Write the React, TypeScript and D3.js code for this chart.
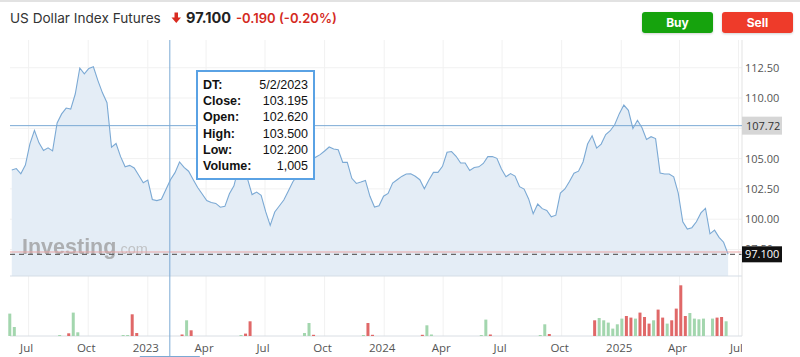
import React from "react";
import * as d3 from "d3";

const startDate = new Date(2022, 5, 5);
const closeValues: number[] = [
  104.06, 104.18, 103.75, 104.47, 106.21, 107.33, 106.3, 105.67, 105.89, 105.64,
  107.94, 108.69, 109.17, 109.09, 110.33, 112.48, 111.99, 112.44, 112.58, 111.44,
  110.43, 109.61, 105.94, 106.25, 105.16, 104.32, 104.44, 104.23, 103.62, 103.0,
  103.23, 101.63, 101.53, 101.64, 102.45, 103.25, 103.84, 104.72, 104.27, 103.96,
  103.28, 102.61, 102.08, 101.54, 101.38, 101.3, 100.99, 101.06, 102.1, 102.75,
  104.23, 104.39, 103.32, 102.03, 102.24, 101.97, 100.62, 99.49, 100.59, 101.09,
  101.58, 102.33, 103.09, 103.61, 104.23, 104.55, 104.88, 105.11, 105.33, 105.63,
  105.96, 105.79, 105.73, 104.69, 104.69, 103.37, 102.95, 103.07, 103.2, 101.89,
  101.0, 101.11, 101.9, 102.13, 102.98, 103.26, 103.53, 103.73, 103.75, 103.54,
  103.26, 102.51, 103.24, 103.86, 103.86, 104.36, 105.52, 105.58, 105.19, 104.64,
  104.64, 104.02, 104.26, 104.32, 104.6, 105.16, 105.17, 105.02, 104.14, 103.51,
  103.76, 103.56, 102.68, 102.48, 101.67, 100.45, 101.25, 100.87, 100.72, 100.19,
  100.33, 102.15, 102.49, 103.11, 103.79, 103.96, 104.72, 106.2, 106.88, 105.87,
  106.2, 106.99, 107.3, 107.81, 108.71, 109.42, 108.99, 107.49, 108.16, 107.55,
  106.58, 106.81, 106.65, 103.81, 103.73, 103.73, 103.49, 102.15, 99.79, 99.19,
  99.3, 99.79, 100.52, 100.9, 98.79, 99.1, 98.5, 98.1, 97.1,
];

const volumeWeek: number[] = [
  0, 1, 11, 13, 14, 15, 25, 26, 27, 28, 38, 39, 40, 51, 52, 53, 65, 66, 67, 78, 79, 80,
  91, 92, 93, 104, 105, 106, 117, 118, 119,
  129, 130, 131, 132, 133, 134, 135, 136, 137, 138, 139, 140, 141, 142, 143, 144, 145,
  146, 147, 148, 149, 150, 151, 152, 153, 155, 156, 157, 158,
];
const volumeValue: number[] = [
  22400, 9000, 1000, 2700, 23400, 3700, 1000, 1000, 21700, 3000, 1500, 15700, 5700, 1000,
  2400, 14700, 3000, 13000, 1200, 1000, 13000, 1200, 1200, 10700, 1500, 1000, 16400, 1500,
  1000, 11700, 2000,
  15700, 18000, 15700, 13400, 7400, 11700, 17400, 20000, 18400, 17400, 23400, 19000, 12400,
  15700, 26400, 18400, 12400, 15700, 27400, 50700, 20000, 23000, 17400, 16700, 17400, 17400,
  18400, 19000, 14700,
];
const volumeUp: boolean[] = [
  true, true, true, false, true, true, true, true, false, false, false, true, false, true,
  false, false, true, true, false, true, false, false, false, true, true, true, true, false,
  true, true, false,
  false, true, true, true, true, true, true, false, false, true, false, false, false, true,
  false, false, true, false, false, false, false, true, true, true, true, true, false, false,
  true,
];

const yTicks: number[] = [97.5, 100, 102.5, 105, 107.5, 110, 112.5];
const yLabelTicks: number[] = [100, 102.5, 105, 110, 112.5];
const xTickDates: Date[] = [
  new Date(2022, 6, 1), new Date(2022, 9, 1), new Date(2023, 0, 1), new Date(2023, 3, 1),
  new Date(2023, 6, 1), new Date(2023, 9, 1), new Date(2024, 0, 1), new Date(2024, 3, 1),
  new Date(2024, 6, 1), new Date(2024, 9, 1), new Date(2025, 0, 1), new Date(2025, 3, 1),
  new Date(2025, 6, 1),
];
const xTickLabels: string[] = [
  "Jul", "Oct", "2023", "Apr", "Jul", "Oct", "2024", "Apr", "Jul", "Oct", "2025", "Apr", "Jul",
];

const lastPrice = 97.1;
const prevClose = 97.29;
const crossPrice = 107.72;
const crossDate = new Date(2023, 1, 4);
const tooltipLabels: string[] = ["DT:", "Close:", "Open:", "High:", "Low:", "Volume:"];
const tooltipValues: string[] = ["5/2/2023", "103.195", "102.620", "103.500", "102.200", "1,005"];

export default function App() {
  const W = 800, H = 357;
  const left = 10, right = 742, top = 40, bottom = 276;
  const volBase = 336;

  const dates = closeValues.map((_, i) => d3.timeDay.offset(startDate, i * 7));
  const data = closeValues.map((v, i) => ({ d: dates[i], v }));

  const x = d3.scaleTime()
    .domain([new Date(2022, 5, 2, 6), new Date(2025, 6, 6, 10)])
    .range([left, right]);
  const y = d3.scaleLinear().domain([95.31, 114.79]).range([bottom, top]);
  const yv = d3.scaleLinear().domain([0, 60000]).range([volBase, volBase - 60]);

  const line = d3.line<{ d: Date; v: number }>().x((p) => x(p.d)).y((p) => y(p.v));
  const area = d3.area<{ d: Date; v: number }>().x((p) => x(p.d)).y0(bottom).y1((p) => y(p.v));

  const axisFont = "'Open Sans', 'Noto Sans', sans-serif";
  const headFont = "Inter, 'Liberation Sans', sans-serif";
  const tipFont = "'Liberation Sans', Arial, sans-serif";

  const tipX = 197, tipY = 71, tipW = 117, tipH = 108;
  const lastY = y(lastPrice);

  return (
    <svg width={W} height={H} style={{ position: "absolute", left: 0, top: 0, background: "#fff" }}>
      <defs>
        <clipPath id="xlab">
          <rect x={0} y={336} width={right} height={21} />
        </clipPath>
        <clipPath id="peek">
          <rect x={742} y={lastY - 14} width={58} height={6} />
        </clipPath>
        <filter id="sh" x="-10%" y="-20%" width="120%" height="160%">
          <feDropShadow dx="0" dy="1" stdDeviation="1.2" floodColor="#000" floodOpacity="0.18" />
        </filter>
      </defs>
      <rect x={0} y={0} width={W} height={2} fill="#e2e2e2" />

      {/* header */}
      <text x={10} y={23} fontFamily={headFont} fontSize={13.6} fill="#333">US Dollar Index Futures</text>
      <path d="M174.5,12.5 h3.5 v5 h3 l-4.75,5.5 l-4.75,-5.5 h3 z" fill="#d92b20" />
      <text x={186} y={23} fontFamily={headFont} fontSize={14.5} fontWeight={700} fill="#222">97.100</text>
      <text x={236} y={22.5} fontFamily={headFont} fontSize={13} fontWeight={600} fill="#d42a1e">-0.190</text>
      <text x={279} y={22.5} fontFamily={headFont} fontSize={13} fontWeight={600} fill="#d42a1e">(-0.20%)</text>

      {/* buttons */}
      <rect x={642} y={12} width={71} height={21} rx={3} fill="#13a30f" filter="url(#sh)" />
      <text x={677.5} y={26.5} textAnchor="middle" fontFamily={headFont} fontSize={12} fontWeight={700} fill="#fff">Buy</text>
      <rect x={722} y={12} width={71} height={21} rx={3} fill="#ee3a2b" filter="url(#sh)" />
      <text x={757.5} y={26.5} textAnchor="middle" fontFamily={headFont} fontSize={12} fontWeight={700} fill="#fff">Sell</text>

      {/* grid */}
      {yTicks.map((t) => (
        <line key={"gy" + t} x1={left} x2={right} y1={y(t)} y2={y(t)} stroke="#f1f1f1" />
      ))}
      {xTickDates.map((d, i) => (
        <line key={"gx" + i} x1={x(d)} x2={x(d)} y1={top} y2={volBase} stroke="#f1f1f1" />
      ))}

      {/* area + line */}
      <path d={area(data) || ""} fill="#e4edf6" />
      <path d={line(data) || ""} fill="none" stroke="#7ba9d4" strokeWidth={1.1} />

      {/* watermark */}
      <text x={22} y={254} fontFamily={tipFont} fontSize={21.5} fontWeight={700} fill="#9a9a9a" opacity={0.75}>
        Investing<tspan fontSize={14.5} fontWeight={400} fill="#b5b5b5">.com</tspan>
      </text>

      {/* price lines */}
      <line x1={left} x2={right} y1={y(prevClose)} y2={y(prevClose)} stroke="#e8a3a3" strokeWidth={1} />
      <line x1={left} x2={right} y1={lastY} y2={lastY} stroke="#666" strokeWidth={1.2} strokeDasharray="5,4" />

      {/* frame */}
      <line x1={left} x2={right} y1={bottom} y2={bottom} stroke="#d5dde6" />
      <line x1={right} x2={right} y1={top} y2={volBase} stroke="#e3e3e3" />
      <line x1={left} x2={right} y1={volBase} y2={volBase} stroke="#d9dee4" />

      {/* y labels */}
      {yLabelTicks.map((t) => (
        <text key={"yl" + t} x={745} y={y(t) + 4} fontFamily={axisFont} fontSize={11} fill="#555">
          {t.toFixed(2)}
        </text>
      ))}
      <g clipPath="url(#peek)">
        <text x={745} y={y(97.5) + 4} fontFamily={axisFont} fontSize={11} fill="#555">97.50</text>
      </g>

      {/* volume */}
      {volumeWeek.map((w, i) => (
        <rect
          key={"v" + i}
          x={x(dates[w]) - 3.5}
          y={yv(volumeValue[i])}
          width={3}
          height={volBase - yv(volumeValue[i])}
          fill={volumeUp[i] ? "#a3d6ae" : "#e06868"}
        />
      ))}

      {/* x labels */}
      <g clipPath="url(#xlab)">
        {xTickDates.map((d, i) => (
          <text key={"xl" + i} x={x(d) - 2} y={352} textAnchor="middle" fontFamily={axisFont} fontSize={11.5} fill="#555">
            {xTickLabels[i]}
          </text>
        ))}
      </g>

      {/* crosshair */}
      <line x1={x(crossDate)} x2={x(crossDate)} y1={top} y2={H} stroke="#7ba9d4" strokeWidth={1} />
      <line x1={left} x2={right} y1={y(crossPrice)} y2={y(crossPrice)} stroke="#7ba9d4" strokeWidth={1} />
      <line x1={x(crossDate) - 30} x2={x(crossDate) + 30} y1={356.5} y2={356.5} stroke="#7ba9d4" strokeWidth={1} />

      {/* right labels */}
      <rect x={742} y={y(crossPrice) - 9} width={40} height={18} fill="#d6d6d6" />
      <text x={746} y={y(crossPrice) + 4} fontFamily={axisFont} fontSize={11} fill="#333">{crossPrice.toFixed(2)}</text>
      <rect x={742} y={lastY - 8} width={40} height={16} fill="#111" />
      <text x={745} y={lastY + 4} fontFamily={axisFont} fontSize={11} fill="#fff">{lastPrice.toFixed(3)}</text>

      {/* tooltip */}
      <rect x={tipX} y={tipY} width={tipW} height={tipH} fill="#fff" stroke="#5aa2e4" strokeWidth={2} />
      {tooltipLabels.map((l, i) => (
        <g key={"tt" + i}>
          <text x={tipX + 6} y={tipY + 18 + i * 16.2} fontFamily={tipFont} fontSize={12.5} fontWeight={700} fill="#111">{l}</text>
          <text x={tipX + tipW - 6} y={tipY + 18 + i * 16.2} textAnchor="end" fontFamily={tipFont} fontSize={12.5} fill="#111">{tooltipValues[i]}</text>
        </g>
      ))}
    </svg>
  );
}
